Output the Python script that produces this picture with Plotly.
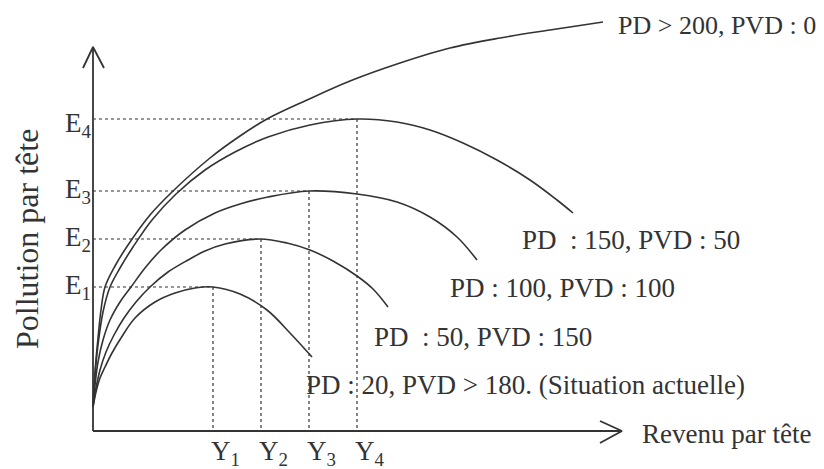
import plotly.graph_objects as go

# Courbes (x : revenu par tête, y : pollution par tête)
pd20_x = [0, 3, 7, 12, 19, 28, 42, 62, 82, 102, 120, 147, 174, 197, 219]
pd20_y = [24, 39, 53, 64, 78, 93, 113, 129, 138, 143, 144, 137, 121, 98, 74]

pd50_x = [0, 3, 7, 13, 21, 31, 43, 57, 75, 95, 112, 132, 167, 194, 217, 240, 264, 280, 295]
pd50_y = [24, 43, 61, 79, 96, 113, 129, 144, 159, 171, 180, 187, 192, 188, 181, 170, 155, 142, 124]

pd100_x = [0, 2, 5, 10, 17, 27, 38, 52, 68, 92, 122, 147, 175, 216, 264, 304, 337, 364, 384]
pd100_y = [24, 46, 69, 91, 111, 129, 144, 163, 181, 201, 218, 227, 234, 240, 237, 229, 214, 194, 171]

pd150_x = [0, 2, 5, 10, 17, 27, 40, 59, 83, 112, 142, 175, 217, 264, 304, 337, 370, 404, 437, 464, 480]
pd150_y = [24, 56, 86, 119, 144, 163, 184, 211, 237, 261, 279, 294, 306, 312, 309, 301, 288, 271, 251, 231, 218]

pd200_x = [0, 2, 5, 8, 12, 22, 35, 57, 79, 117, 147, 174, 214, 257, 307, 357, 407, 457, 510]
pd200_y = [24, 59, 93, 121, 144, 165, 186, 216, 239, 273, 295, 312, 331, 350, 368, 383, 393, 401, 409]

# niveaux de pollution maximale et revenus correspondants
e_levels = [144, 192, 240, 312]
y_levels = [120, 168, 216, 264]
e_labels = ["E<sub>1</sub>", "E<sub>2</sub>", "E<sub>3</sub>", "E<sub>4</sub>"]
y_labels = ["Y<sub>1</sub>", "Y<sub>2</sub>", "Y<sub>3</sub>", "Y<sub>4</sub>"]

curve_labels = [
    "PD : 20, PVD &gt; 180. (Situation actuelle)",
    "PD&nbsp; : 50, PVD : 150",
    "PD : 100, PVD : 100",
    "PD&nbsp; : 150, PVD : 50",
    "PD &gt; 200, PVD : 0",
]
label_pos = [(211, 46), (279, 94), (355, 143), (427, 191), (523, 406)]

x_axis_end = 529
y_axis_end = 384
ink = "#333333"
font = "Liberation Serif, Times New Roman, serif"

fig = go.Figure()

# guides pointillés
for e, y in zip(e_levels, y_levels):
    fig.add_trace(go.Scatter(x=[0, y, y], y=[e, e, 0], mode="lines",
                             line=dict(color=ink, width=1.2, dash="dot"),
                             hoverinfo="skip"))

for cx, cy in [(pd20_x, pd20_y), (pd50_x, pd50_y), (pd100_x, pd100_y),
               (pd150_x, pd150_y), (pd200_x, pd200_y)]:
    fig.add_trace(go.Scatter(x=cx, y=cy, mode="lines",
                             line=dict(color=ink, width=1.6, shape="spline", smoothing=1),
                             hoverinfo="skip"))

# axes avec flèches ouvertes
fig.add_trace(go.Scatter(x=[0, 0, None, -10, 0, 11], y=[0, y_axis_end, None, y_axis_end - 21, y_axis_end, y_axis_end - 21],
                         mode="lines", line=dict(color=ink, width=1.8), hoverinfo="skip"))
fig.add_trace(go.Scatter(x=[0, x_axis_end, None, x_axis_end - 22, x_axis_end, x_axis_end - 22],
                         y=[0, 0, None, 10, 0, -12],
                         mode="lines", line=dict(color=ink, width=1.8), hoverinfo="skip"))

ann = []
for txt, (ax, ay) in zip(curve_labels, label_pos):
    size = 26 if ay > 300 else 27
    ann.append(dict(x=ax, y=ay, text=txt, xanchor="left", yanchor="middle",
                    font=dict(family=font, size=size, color=ink)))
for txt, e in zip(e_labels, e_levels):
    off = -6 if e == e_levels[-1] else 0
    ann.append(dict(x=-30, y=e + off, text=txt, xanchor="left", yanchor="middle"))
for txt, y in zip(y_labels, y_levels):
    ann.append(dict(x=y - 4, y=-22, text=txt, xanchor="left", yanchor="middle"))
ann.append(dict(x=547, y=-3, text="Revenu par tête", xanchor="left", yanchor="middle"))
ann.append(dict(x=-66, y=192, text="Pollution par tête", textangle=-90,
                xanchor="center", yanchor="middle",
                font=dict(family=font, size=32, color=ink)))
for a in ann:
    a.update(xref="x", yref="y", showarrow=False)
    a.setdefault("font", dict(family=font, size=27, color=ink))

# la page ajoute une marge de 8 px : on décale les plages d'autant
fig.update_layout(
    width=824, height=469,
    margin=dict(l=0, r=0, t=0, b=0),
    paper_bgcolor="white", plot_bgcolor="white",
    showlegend=False,
    annotations=ann,
    xaxis=dict(range=[-85, 739], visible=False, fixedrange=True),
    yaxis=dict(range=[-46, 423], visible=False, fixedrange=True),
)

fig.write_html("out.html")
